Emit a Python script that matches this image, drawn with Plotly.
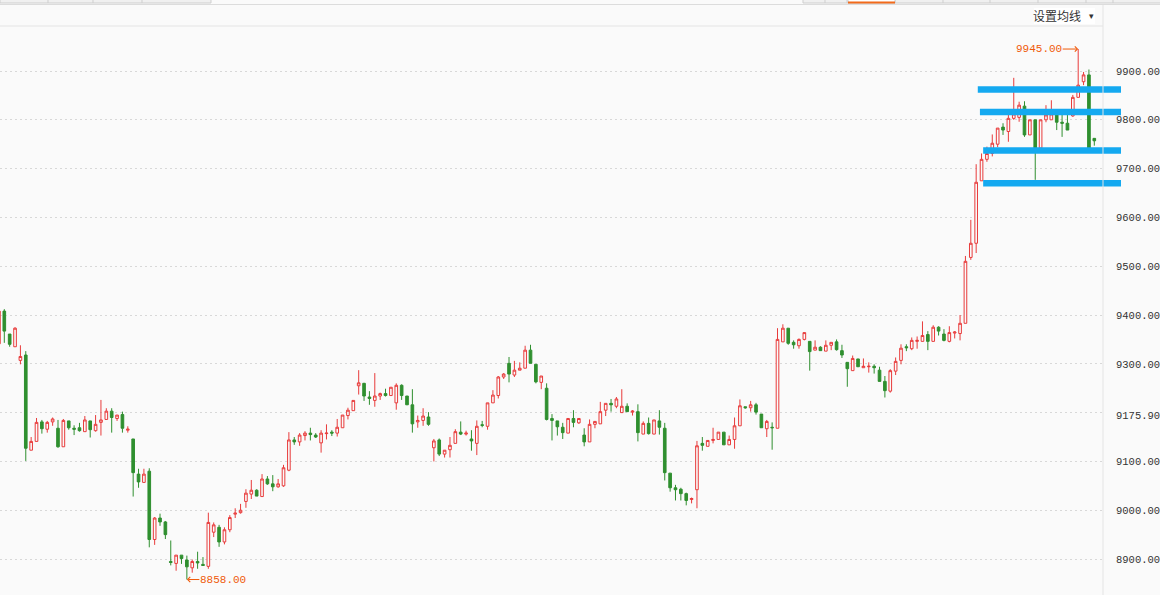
import plotly.graph_objects as go

# ---------------- data ----------------
opens = [9341, 9408, 9361, 9335, 9307, 9318, 9123, 9141, 9181, 9166,
         9181, 9168, 9130, 9183, 9168, 9169, 9161, 9183, 9163, 9180,
         9186, 9203, 9188, 9196, 9164, 9146, 9074, 9057, 9080, 8940,
         8984, 8976, 8895, 8891, 8908, 8898, 8882, 8895, 8889, 8885,
         8955, 8965, 8935, 8960, 8992, 8995, 9018, 9033, 9041, 9028,
         9064, 9054, 9048, 9050, 9082, 9144, 9140, 9153, 9158, 9154,
         9138, 9157, 9160, 9158, 9169, 9194, 9204, 9255, 9260, 9232,
         9225, 9234, 9239, 9235, 9220, 9256, 9234, 9216, 9181, 9184,
         9191, 9128, 9144, 9115, 9124, 9137, 9160, 9156, 9146, 9137,
         9175, 9172, 9220, 9235, 9273, 9301, 9277, 9287, 9291, 9328,
         9299, 9262, 9250, 9188, 9183, 9170, 9158, 9188, 9179, 9154,
         9140, 9176, 9177, 9205, 9219, 9213, 9200, 9213, 9201, 9202,
         9156, 9178, 9156, 9183, 9168, 9076, 9046, 9043, 9034, 9022,
         9042, 9137, 9131, 9143, 9145, 9160, 9134, 9145, 9173, 9212,
         9210, 9216, 9197, 9167, 9170, 9168, 9345, 9373, 9344, 9337,
         9350, 9346, 9328, 9334, 9326, 9338, 9345, 9327, 9303, 9286,
         9310, 9292, 9294, 9295, 9287, 9264, 9244, 9285, 9307, 9335,
         9331, 9346, 9346, 9360, 9346, 9375, 9361, 9346, 9363, 9362,
         9383, 9518, 9547, 9675, 9719, 9731, 9750, 9785, 9776, 9803,
         9805, 9828, 9769, 9800, 9742, 9800, 9800, 9810, 9795, 9793,
         9808, 9846, 9878, 9892, 9762]
highs = [9410, 9412, 9361, 9375, 9338, 9326, 9150, 9189, 9185, 9183,
         9190, 9185, 9187, 9183, 9174, 9179, 9193, 9183, 9195, 9226,
         9209, 9209, 9195, 9202, 9172, 9146, 9085, 9085, 9086, 8986,
         8993, 8978, 8938, 8908, 8908, 8907, 8899, 8915, 8904, 8995,
         8975, 8970, 8965, 8990, 9004, 9013, 9043, 9062, 9043, 9074,
         9070, 9072, 9064, 9093, 9160, 9150, 9158, 9162, 9169, 9158,
         9164, 9176, 9164, 9187, 9195, 9210, 9225, 9287, 9261, 9244,
         9281, 9241, 9249, 9252, 9260, 9258, 9234, 9248, 9194, 9209,
         9201, 9146, 9147, 9123, 9150, 9166, 9182, 9163, 9164, 9184,
         9183, 9220, 9246, 9275, 9281, 9314, 9306, 9303, 9337, 9339,
         9299, 9275, 9260, 9197, 9183, 9179, 9188, 9205, 9188, 9168,
         9186, 9182, 9222, 9219, 9228, 9232, 9248, 9219, 9205, 9217,
         9182, 9190, 9185, 9205, 9179, 9076, 9052, 9046, 9036, 9026,
         9142, 9150, 9143, 9169, 9160, 9160, 9153, 9190, 9227, 9212,
         9224, 9220, 9197, 9185, 9180, 9373, 9381, 9373, 9348, 9352,
         9364, 9346, 9348, 9336, 9348, 9344, 9350, 9339, 9303, 9317,
         9310, 9311, 9303, 9299, 9294, 9275, 9289, 9313, 9340, 9340,
         9354, 9356, 9387, 9367, 9379, 9377, 9371, 9377, 9367, 9400,
         9521, 9595, 9709, 9731, 9745, 9770, 9783, 9793, 9812, 9886,
         9837, 9838, 9800, 9800, 9800, 9830, 9840, 9812, 9811, 9811,
         9851, 9945, 9898, 9903, 9762]
lows = [9338, 9343, 9335, 9335, 9299, 9101, 9123, 9141, 9157, 9159,
        9173, 9128, 9130, 9165, 9154, 9161, 9161, 9149, 9161, 9153,
        9186, 9159, 9183, 9159, 9159, 9028, 9046, 9057, 8924, 8929,
        8968, 8941, 8887, 8876, 8890, 8858, 8872, 8880, 8886, 8880,
        8945, 8925, 8930, 8955, 8984, 8993, 9005, 9023, 9029, 9028,
        9052, 9039, 9046, 9048, 9080, 9134, 9132, 9143, 9143, 9148,
        9118, 9145, 9152, 9151, 9169, 9186, 9204, 9237, 9224, 9216,
        9212, 9226, 9233, 9235, 9206, 9226, 9216, 9159, 9169, 9173,
        9173, 9100, 9111, 9108, 9108, 9137, 9154, 9153, 9122, 9113,
        9170, 9165, 9220, 9229, 9269, 9262, 9273, 9287, 9291, 9301,
        9260, 9248, 9184, 9143, 9153, 9146, 9158, 9170, 9177, 9131,
        9140, 9168, 9177, 9193, 9202, 9209, 9200, 9202, 9194, 9141,
        9156, 9155, 9156, 9155, 9061, 9038, 9020, 9020, 9010, 9014,
        9004, 9122, 9131, 9137, 9145, 9134, 9134, 9126, 9173, 9208,
        9202, 9196, 9169, 9150, 9124, 9168, 9345, 9339, 9331, 9331,
        9348, 9286, 9328, 9327, 9326, 9328, 9327, 9312, 9253, 9286,
        9294, 9292, 9282, 9280, 9264, 9231, 9241, 9277, 9299, 9326,
        9328, 9331, 9346, 9328, 9346, 9358, 9346, 9344, 9352, 9348,
        9383, 9513, 9527, 9675, 9714, 9725, 9744, 9769, 9755, 9800,
        9796, 9765, 9769, 9677, 9742, 9795, 9800, 9779, 9765, 9779,
        9806, 9846, 9871, 9742, 9747]
closes = [9408, 9367, 9340, 9373, 9315, 9127, 9141, 9180, 9167, 9180,
          9187, 9130, 9184, 9169, 9166, 9163, 9185, 9165, 9176, 9185,
          9203, 9190, 9195, 9168, 9166, 9077, 9058, 9074, 8940, 8984,
          8976, 8950, 8893, 8908, 8901, 8884, 8895, 8892, 8887, 8975,
          8970, 8935, 8960, 8985, 8994, 9000, 9035, 9041, 9029, 9064,
          9054, 9048, 9054, 9087, 9144, 9140, 9154, 9158, 9155, 9150,
          9158, 9158, 9158, 9170, 9195, 9205, 9225, 9261, 9234, 9229,
          9234, 9239, 9235, 9252, 9256, 9235, 9216, 9177, 9184, 9193,
          9176, 9142, 9115, 9123, 9133, 9161, 9156, 9158, 9142, 9172,
          9174, 9220, 9236, 9273, 9279, 9279, 9287, 9291, 9328, 9301,
          9263, 9275, 9186, 9184, 9171, 9159, 9188, 9180, 9188, 9140,
          9176, 9182, 9202, 9219, 9216, 9228, 9213, 9202, 9203, 9159,
          9178, 9157, 9185, 9170, 9077, 9046, 9042, 9034, 9020, 9024,
          9132, 9133, 9143, 9145, 9160, 9134, 9145, 9173, 9214, 9210,
          9216, 9201, 9169, 9182, 9169, 9350, 9373, 9342, 9339, 9350,
          9364, 9325, 9334, 9327, 9338, 9344, 9329, 9318, 9290, 9311,
          9294, 9295, 9295, 9292, 9264, 9245, 9286, 9305, 9332, 9333,
          9348, 9348, 9358, 9346, 9375, 9367, 9348, 9364, 9365, 9383,
          9510, 9547, 9672, 9719, 9731, 9752, 9783, 9779, 9803, 9812,
          9830, 9769, 9800, 9742, 9800, 9810, 9812, 9795, 9793, 9779,
          9846, 9871, 9892, 9742, 9757]
idx = list(range(len(opens)))

y_tick_vals = [8900, 9000, 9100, 9200, 9300, 9400, 9500, 9600, 9700, 9800, 9900]
y_tick_text = ["8900.00", "9000.00", "9100.00", "", "9300.00", "9400.00",
               "9500.00", "9600.00", "9700.00", "9800.00", "9900.00"]
price_label = "9175.90"
price_label_y = 9194

# user-drawn horizontal levels: price and starting candle index
level_prices = [9862, 9816, 9737, 9670]
level_start = [182.3, 182.7, 183.3, 183.3]

high_idx, high_val = 201, 9945
low_idx, low_val = 35, 8858

# ---------------- layout constants ----------------
W, H = 1160, 595
ML, MR, MT, MB = 0, 57, 26, 0
PW, PH = W - ML - MR, H - MT - MB
XR = [0.199, 205.62]
YR = [8826.3, 9992.2]

RED = "#e83b3b"
GREEN = "#2f8f2f"
BLUE = "#14a9f0"
ORANGE = "#f05a0a"
BG = "#fafafa"


def px_x(x):
    return (x - ML) / PW


def px_y(y):
    return 1 + (MT - y) / PH


fig = go.Figure()
fig.add_trace(go.Candlestick(
    x=idx, open=opens, high=highs, low=lows, close=closes,
    increasing=dict(line=dict(color=RED, width=1), fillcolor=BG),
    decreasing=dict(line=dict(color=GREEN, width=1), fillcolor=GREEN),
    whiskerwidth=0, showlegend=False, hoverinfo="skip",
))

shapes = []
# horizontal user lines
for p, s in zip(level_prices, level_start):
    x0 = (s - XR[0]) / (XR[1] - XR[0])
    shapes.append(dict(type="line", xref="paper", yref="y", x0=x0, x1=px_x(1121),
                       y0=p, y1=p, line=dict(color=BLUE, width=6.5), layer="above"))
# frame lines
shapes.append(dict(type="line", xref="paper", yref="paper", x0=0, x1=1,
                   y0=1, y1=1, line=dict(color="#e4e4e4", width=1)))
shapes.append(dict(type="line", xref="paper", yref="paper", x0=1, x1=1,
                   y0=px_y(4.5), y1=0, line=dict(color="#e4e4e4", width=1)))
# header strip
shapes.append(dict(type="line", xref="paper", yref="paper", x0=0, x1=px_x(1160),
                   y0=px_y(4.5), y1=px_y(4.5), line=dict(color="#dcdcdc", width=1)))
shapes.append(dict(type="rect", xref="paper", yref="paper", x0=px_x(0), x1=px_x(211),
                   y0=px_y(3), y1=px_y(-2), fillcolor="#f0f0f0",
                   line=dict(color="#cfcfcf", width=1)))
shapes.append(dict(type="rect", xref="paper", yref="paper", x0=px_x(803), x1=px_x(1161),
                   y0=px_y(3), y1=px_y(-2), fillcolor="#f0f0f0",
                   line=dict(color="#cfcfcf", width=1)))
for xd in [48, 93, 142, 825, 847, 895, 943, 990, 1038, 1086, 1113]:
    shapes.append(dict(type="line", xref="paper", yref="paper", x0=px_x(xd), x1=px_x(xd),
                       y0=px_y(3), y1=px_y(0), line=dict(color="#cfcfcf", width=1)))
shapes.append(dict(type="rect", xref="paper", yref="paper", x0=px_x(848), x1=px_x(895),
                   y0=px_y(3), y1=px_y(-2), fillcolor="#ffffff",
                   line=dict(color="#cfcfcf", width=1)))
shapes.append(dict(type="line", xref="paper", yref="paper", x0=px_x(848), x1=px_x(895),
                   y0=px_y(2.5), y1=px_y(2.5), line=dict(color="#f26a1b", width=2)))
# white box behind the MA-setting button
shapes.append(dict(type="rect", xref="paper", yref="paper", x0=px_x(1034), x1=px_x(1095),
                   y0=px_y(8), y1=px_y(24), fillcolor="#ffffff",
                   line=dict(width=0), layer="below"))

annotations = [
    dict(x=high_idx, y=high_val, xref="x", yref="y", text=f"{high_val:.2f}",
         showarrow=True, ax=-39, ay=0, arrowhead=4, arrowsize=1, arrowwidth=1,
         arrowcolor=ORANGE, font=dict(family="Liberation Mono", size=11, color=ORANGE),
         borderpad=0),
    dict(x=low_idx, y=low_val, xref="x", yref="y", text=f"{low_val:.2f}",
         showarrow=True, ax=36, ay=0, arrowhead=4, arrowsize=1, arrowwidth=1,
         arrowcolor=ORANGE, font=dict(family="Liberation Mono", size=11, color=ORANGE),
         borderpad=0),
    dict(x=px_x(1114), y=price_label_y, xref="paper", yref="y", text=price_label,
         showarrow=False, xanchor="left", yanchor="middle",
         font=dict(family="Liberation Mono", size=10.5, color="#333333")),
    dict(x=px_x(1083), y=px_y(16), xref="paper", yref="paper", text="设置均线",
         showarrow=False, xanchor="right", yanchor="middle",
         font=dict(family="Noto Sans CJK SC", size=12, color="#333333")),
    dict(x=px_x(1087), y=px_y(16), xref="paper", yref="paper", text="▾",
         showarrow=False, xanchor="left", yanchor="middle",
         font=dict(family="DejaVu Sans", size=9, color="#333333")),
]

fig.update_layout(
    width=W, height=H,
    margin=dict(l=ML, r=MR, t=MT, b=MB, pad=0),
    paper_bgcolor=BG, plot_bgcolor=BG,
    shapes=shapes, annotations=annotations,
    showlegend=False,
    xaxis=dict(range=XR, showgrid=False, zeroline=False, showticklabels=False,
               rangeslider=dict(visible=False), fixedrange=True, showline=False),
    yaxis=dict(range=YR, side="right", tickvals=y_tick_vals, ticktext=y_tick_text,
               showgrid=True, gridcolor="#d8d8d8", griddash="2px,3px", gridwidth=1,
               zeroline=False, ticks="", ticklabelstandoff=12,
               tickfont=dict(family="Liberation Mono", size=10.5, color="#333333"),
               fixedrange=True, showline=False),
)

fig.write_html(
    "out.html",
    config={"displayModeBar": False},
    post_script="document.body.style.margin='0';document.body.style.overflow='hidden';",
)
